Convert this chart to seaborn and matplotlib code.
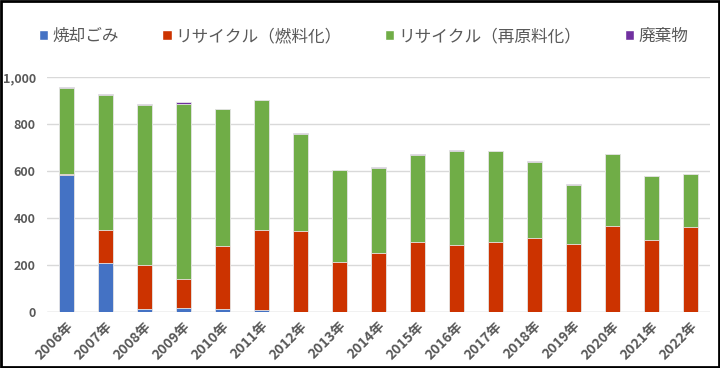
import numpy as np
import pandas as pd
import matplotlib
matplotlib.use('Agg')
import matplotlib.pyplot as plt
from matplotlib.patches import Patch
from matplotlib.ticker import FuncFormatter
import seaborn as sns

years = ['2006年', '2007年', '2008年', '2009年', '2010年', '2011年', '2012年', '2013年', '2014年',
         '2015年', '2016年', '2017年', '2018年', '2019年', '2020年', '2021年', '2022年']
incin = [585, 211, 13, 17, 12, 7, 0, 0, 0, 0, 0, 0, 0, 0, 0, 0, 0]
fuel = [5, 138, 186, 123, 271, 342, 344, 213, 252, 299, 284, 297, 316, 292, 366, 305, 363]
mat = [366, 576, 684, 747, 582, 553, 415, 390, 362, 372, 403, 390, 325, 251, 307, 274, 224]
waste = [4, 5, 4, 6, 1, 2, 4, 2, 2, 2, 2, 1, 1, 1, 1, 1, 1]

names = ['焼却ごみ', 'リサイクル（燃料化）', 'リサイクル（再原料化）', '廃棄物']
colors = ['#4472C4', '#CC3300', '#70AD47', '#7030A0']

sns.set_style('white')
plt.rcParams['font.family'] = ['Noto Sans CJK JP', 'DejaVu Sans']

df = pd.DataFrame({'year': years, 'a': incin, 'b': fuel, 'c': mat, 'd': waste})
df['s1'] = df['a']
df['s2'] = df['s1'] + df['b']
df['s3'] = df['s2'] + df['c']
df['s4'] = df['s3'] + df['d']

fig = plt.figure(figsize=(7.2, 3.68), dpi=100)
ax = fig.add_axes([0.065, 0.152, 0.921, 0.638])

# draw the cumulative totals from the top down so each layer covers the one above
for col, c in zip(['s4', 's3', 's2', 's1'], colors[::-1]):
    sns.barplot(data=df, x='year', y=col, color=c, width=0.4, ax=ax,
                edgecolor='#e8e8e8', linewidth=0.6, saturation=1)

ax.set_ylim(0, 1000)
ax.set_yticks(range(0, 1001, 200))
ax.yaxis.set_major_formatter(FuncFormatter(lambda v, p: f'{int(v):,}'))
ax.set_xlim(-0.5, len(years) - 0.5)
ax.set_xlabel('')
ax.set_ylabel('')
ax.grid(axis='y', color='#d9d9d9', linewidth=1)
ax.set_axisbelow(True)
sns.despine(ax=ax, left=True, bottom=True)
ax.axhline(0, color='#d9d9d9', linewidth=1, zorder=0)
ax.tick_params(axis='both', length=0, colors='#595959')
ax.tick_params(axis='y', pad=8, labelsize=9)
ax.tick_params(axis='x', pad=5, labelsize=10)
for lab in ax.get_yticklabels() + ax.get_xticklabels():
    lab.set_fontweight('bold')
plt.setp(ax.get_xticklabels(), rotation=45, ha='right', rotation_mode='anchor')

handles = [Patch(facecolor=c) for c in colors]
leg = fig.legend(handles, names, loc='center', bbox_to_anchor=(0.505, 0.9), ncol=4,
                 frameon=False, fontsize=12, handlelength=0.55, handleheight=0.55,
                 handletextpad=0.25, columnspacing=2.6)
for t in leg.get_texts():
    t.set_color('#595959')

fig.patches.append(plt.Rectangle((0.001, 0.002), 0.997, 0.995, transform=fig.transFigure,
                                 fill=False, edgecolor='black', linewidth=2))

fig.savefig('out.png', dpi=100)
